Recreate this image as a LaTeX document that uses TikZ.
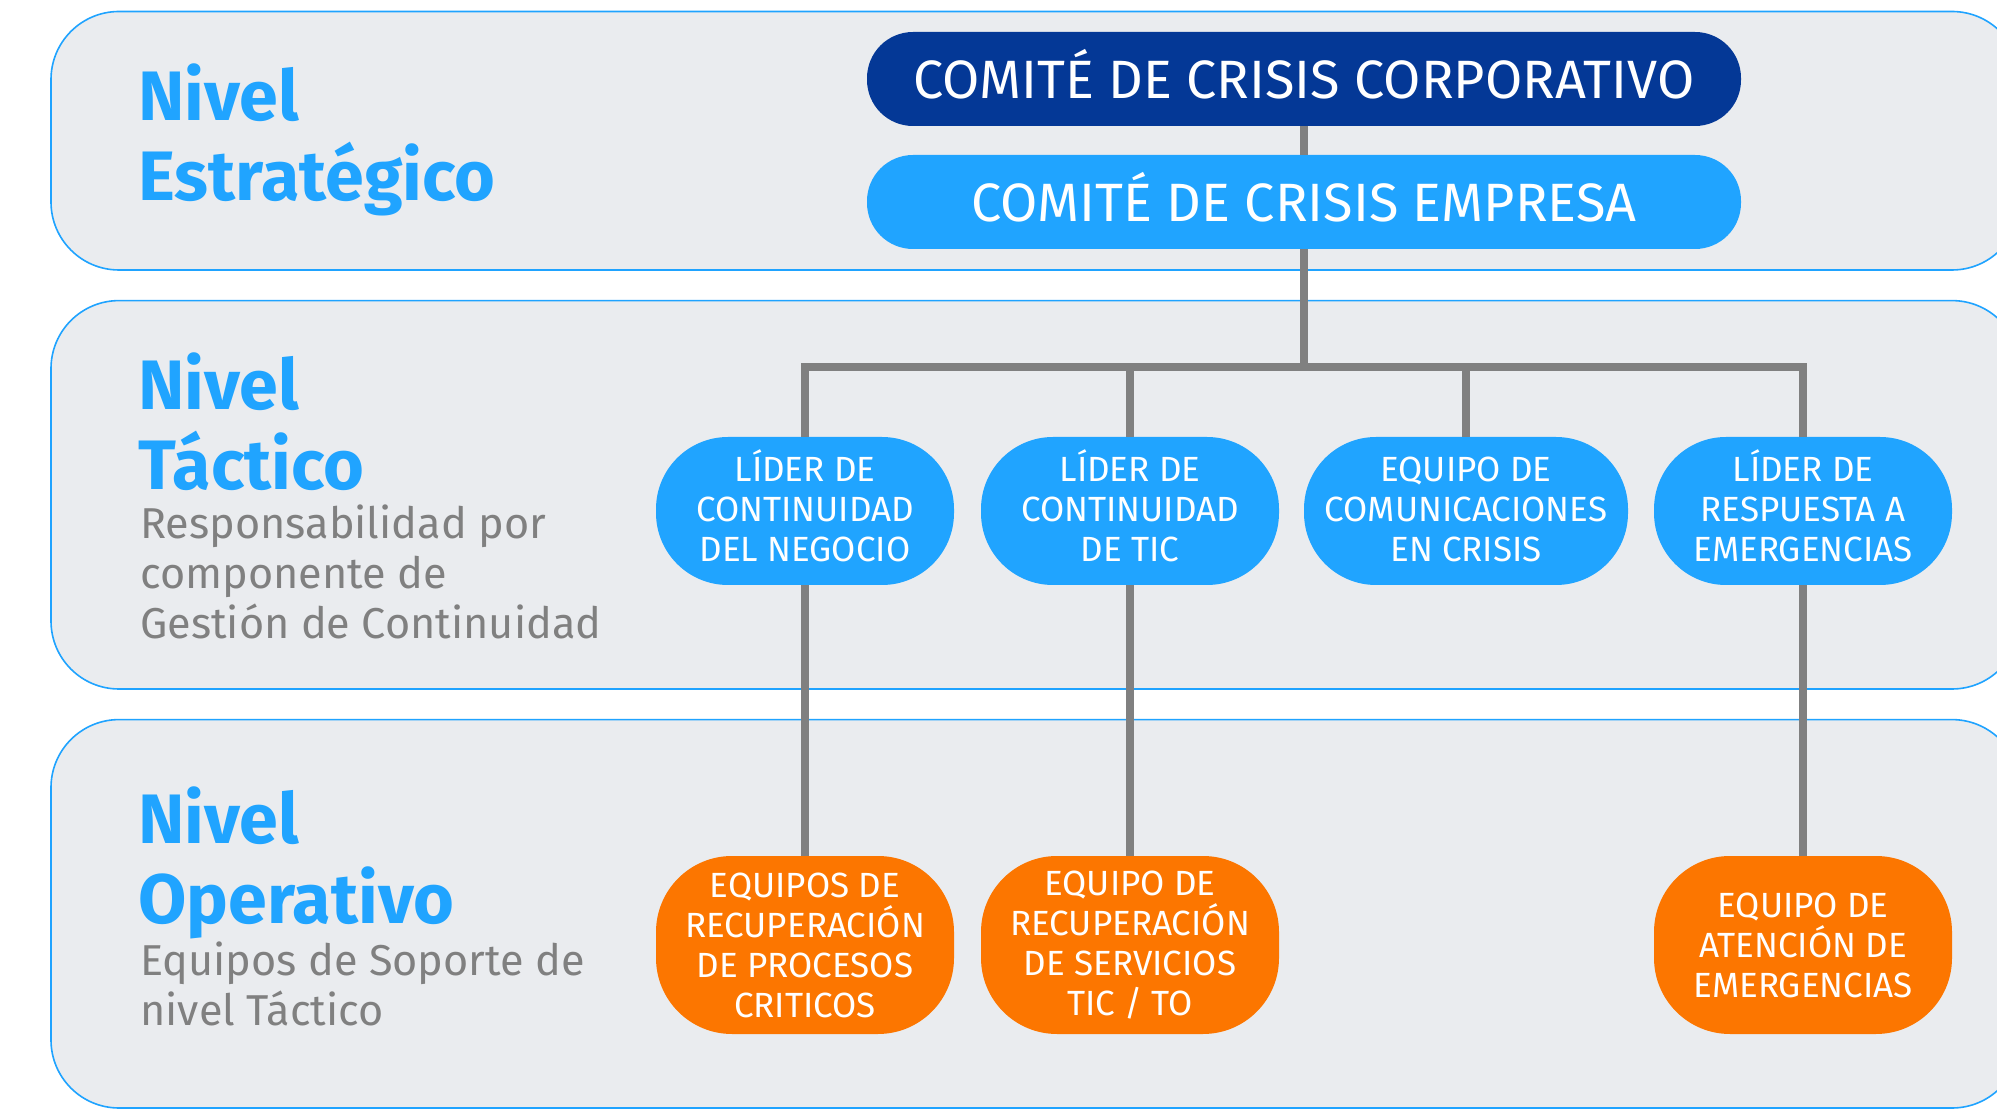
\documentclass[tikz,border=0pt]{standalone}
\usepackage{fontspec}
\setmainfont{Fira Sans}
\definecolor{bandfill}{RGB}{234,236,239}
\definecolor{bandline}{RGB}{31,163,255}
\definecolor{navy}{RGB}{4,56,150}
\definecolor{sky}{RGB}{32,164,255}
\definecolor{orng}{RGB}{252,118,0}
\definecolor{conn}{RGB}{128,128,128}
\definecolor{subgray}{RGB}{128,128,128}
\begin{document}
\begin{tikzpicture}[x=0.5pt,y=-0.5pt,
  band/.style={draw=bandline, line width=0.8pt, fill=bandfill, rounded corners=34pt},
  head/.style={anchor=base west, align=left, inner sep=0, text=sky, font=\fontsize{35}{40}\selectfont\bfseries},
  sub/.style={anchor=base west, align=left, inner sep=0, text=subgray, font=\fontsize{21.6}{25}\selectfont},
  topbox/.style={rounded corners=23pt, minimum width=437pt, minimum height=47pt, inner sep=0, text depth=5pt, text=white, align=center, font=\fontsize{27}{30}\selectfont},
  tacbox/.style={fill=sky, rounded corners=36pt, minimum width=149pt, minimum height=74pt, inner sep=0, text depth=5pt, text=white, align=center, font=\fontsize{17.5}{20}\selectfont},
  opbox/.style={fill=orng, rounded corners=38pt, minimum width=149pt, minimum height=89pt, inner sep=0, text=white, align=center, font=\fontsize{17.5}{20}\selectfont},
  link/.style={draw=conn, line width=4pt, line join=miter}
]
\useasboundingbox (0,0) rectangle (1997,1111);
% bands
\path[band] (51,11.5) rectangle (2020,270);
\path[band] (51,300.6) rectangle (2020,689);
\path[band] (51,719.6) rectangle (2020,1108);
% left labels (base = last line)
\node[head] (h1) at (138,201) {Nivel\\Estratégico};
\node[head] (h2) at (138,490) {Nivel\\Táctico};
\node[sub] (s2) at (140,639) {Responsabilidad por\\componente de\\Gestión de Continuidad};
\node[head] (h3) at (138,923) {Nivel\\Operativo};
\node[sub] (s3) at (140,1025) {Equipos de Soporte de\\nivel Táctico};
% top nodes
\node[topbox, fill=navy] (ccc) at (1304,79) {COMITÉ DE CRISIS CORPORATIVO};
\node[topbox, fill=sky] (cce) at (1304,202) {COMITÉ DE CRISIS EMPRESA};
% tactical
\node[tacbox] (t1) at (805,511) {LÍDER DE\\CONTINUIDAD\\DEL NEGOCIO};
\node[tacbox] (t2) at (1130,511) {LÍDER DE\\CONTINUIDAD\\DE TIC};
\node[tacbox, minimum width=162pt, text depth=1.5pt] (t3) at (1466,511) {EQUIPO DE\\COMUNICACIONES\\EN CRISIS};
\node[tacbox] (t4) at (1803,511) {LÍDER DE\\RESPUESTA A\\EMERGENCIAS};
% operational
\node[opbox] (o1) at (805,945) {EQUIPOS DE\\RECUPERACIÓN\\DE PROCESOS\\CRITICOS};
\node[opbox] (o2) at (1130,945) {EQUIPO DE\\RECUPERACIÓN\\DE SERVICIOS\\TIC / TO};
\node[opbox] (o3) at (1803,945) {EQUIPO DE\\ATENCIÓN DE\\EMERGENCIAS};
% connectors
\coordinate (J) at (1304,367);
\draw[link] (ccc.south) -- (cce.north);
\draw[link] (cce.south) -- (J);
\draw[link] (t1.north) -- (t1.north |- J) -- (t4.north |- J) -- (t4.north);
\draw[link] (t2.north) -- (t2.north |- J);
\draw[link] (t3.north) -- (t3.north |- J);
\draw[link] (t1.south) -- (o1.north);
\draw[link] (t2.south) -- (o2.north);
\draw[link] (t4.south) -- (o3.north);
\end{tikzpicture}
\end{document}
